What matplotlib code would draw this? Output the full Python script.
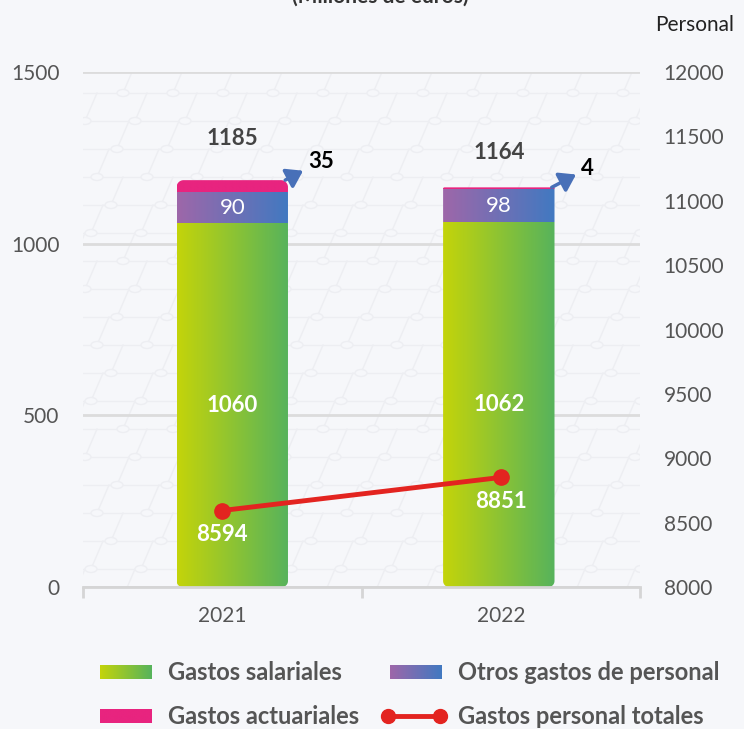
import numpy as np
import matplotlib
matplotlib.use("Agg")
import matplotlib.pyplot as plt
from matplotlib.colors import LinearSegmentedColormap
from matplotlib.path import Path
from matplotlib.patches import Ellipse

plt.rcParams["font.family"] = ["Lato", "DejaVu Sans"]

# datos (millones de euros / personal)
years = ["2021", "2022"]
salariales = [1060, 1062]
otros = [90, 98]
actuariales = [35, 4]
totales = [1185, 1164]
personal = [8594, 8851]

BG = "#f6f7fa"
cm_green = LinearSegmentedColormap.from_list("g", ["#c4d40a", "#56b35c"])
cm_purple = LinearSegmentedColormap.from_list("p", ["#9e67a9", "#4179c1"])
cm_pink = LinearSegmentedColormap.from_list("k", ["#e8247f", "#e8247f"])
grad = np.linspace(0, 1, 256).reshape(1, -1)

fig = plt.figure(figsize=(7.44, 7.29), dpi=100, facecolor=BG)
W, H = 744, 729
L, R, T, B = 83, 640, 72, 587
pos = [L / W, 1 - B / H, (R - L) / W, (B - T) / H]

# fondo con malla tenue
bgax = fig.add_axes(pos, zorder=0)
bgax.set_xlim(0, R - L)
bgax.set_ylim(0, B - T)
bgax.axis("off")
mesh = "#edeef2"
rows = np.arange(-10, B - T + 30, 28)
for i, yy in enumerate(rows):
    xs = np.arange(-60, R - L + 60, 50) + (i % 2) * 24 - (i % 3) * 6
    bgax.plot(xs, [yy] * len(xs), color=mesh, lw=1, zorder=1)
    for xx in xs:
        bgax.plot([xx, xx + 12], [yy, yy + 28], color=mesh, lw=1, zorder=1)
        bgax.add_patch(Ellipse((xx, yy), 12, 7, facecolor=BG, edgecolor=mesh, lw=1, zorder=2))

ax = fig.add_axes(pos, zorder=1)
ax.patch.set_alpha(0)
ax2 = ax.twinx()

x = np.arange(len(years))
bar_shift = [0.036, -0.007]
width = 0.4
xlim = (-0.5, 1.5)
ylim = (0, 1500)
xpp = (xlim[1] - xlim[0]) / (R - L)
ypp = (ylim[1] - ylim[0]) / (B - T)


def rounded_path(x0, y0, x1, y1, rb, rt):
    rbx, rby, rtx, rty = rb * xpp, rb * ypp, rt * xpp, rt * ypp
    pts = []
    def arc(cx, cy, rx, ry, a0, a1):
        for a in np.linspace(np.radians(a0), np.radians(a1), 12):
            pts.append((cx + rx * np.cos(a), cy + ry * np.sin(a)))
    arc(x1 - rbx, y0 + rby, rbx, rby, -90, 0)
    arc(x1 - rtx, y1 - rty, rtx, rty, 0, 90)
    arc(x0 + rtx, y1 - rty, rtx, rty, 90, 180)
    arc(x0 + rbx, y0 + rby, rbx, rby, 180, 270)
    pts.append(pts[0])
    return Path(pts, closed=True)


for i in range(len(years)):
    xc = x[i] + bar_shift[i]
    x0, x1 = xc - width / 2, xc + width / 2
    segs = [(0, salariales[i], cm_green),
            (salariales[i], salariales[i] + otros[i], cm_purple),
            (salariales[i] + otros[i], salariales[i] + otros[i] + actuariales[i], cm_pink)]
    top = segs[-1][1]
    rt = min(7, actuariales[i] / ypp)
    clip = rounded_path(x0, 0, x1, top, 6, rt)
    for s0, s1, cm in segs:
        im = ax.imshow(grad, extent=[x0, x1, s0, s1], aspect="auto", cmap=cm,
                       interpolation="bilinear", zorder=2)
        im.set_clip_path(clip, transform=ax.transData)
    ax.text(xc, salariales[i] / 2, str(salariales[i]), ha="center", va="center",
            color="white", fontsize=16, fontweight="bold", zorder=4)
    ax.text(xc, salariales[i] + otros[i] / 2, str(otros[i]), ha="center", va="center",
            color="white", fontsize=16, zorder=4)
    ax.annotate(str(actuariales[i]), xy=(x1 - 0.01, top), xytext=(36, 19),
                textcoords="offset pixels", ha="center", va="center",
                fontsize=16, fontweight="bold", color="black", zorder=4,
                arrowprops=dict(arrowstyle="<|-,head_length=0.6,head_width=0.4",
                                color="#4870b8", lw=2.5, shrinkA=2, shrinkB=0))

tot_off = [42, 35]
for i in range(len(years)):
    ax.annotate(str(totales[i]), xy=(x[i] + bar_shift[i], totales[i]), xytext=(0, tot_off[i]),
                textcoords="offset pixels", ha="center", va="center",
                fontsize=16, fontweight="bold", color="#444444")

ax.set_xlim(*xlim)
ax.set_ylim(*ylim)
ax.set_yticks([0, 500, 1000, 1500])
ax.yaxis.grid(True, color="#dcdcdc", lw=2)
ax.set_axisbelow(True)
ax.set_xticks([-0.5, 0.5, 1.5])
ax.set_xticklabels([])
ax.set_xticks(x, minor=True)
ax.set_xticklabels(years, minor=True)
ax.tick_params(axis="x", which="major", length=8, width=2, color="#d5d5d5")
ax.tick_params(axis="x", which="minor", length=0, pad=14, labelsize=15, labelcolor="#555555")
ax.tick_params(axis="y", length=0, pad=17, labelsize=15, labelcolor="#555555")
for s in ["top", "left", "right"]:
    ax.spines[s].set_visible(False)
ax.spines["bottom"].set_color("#d5d5d5")
ax.spines["bottom"].set_linewidth(2)

# línea de personal
ax2.plot(x, personal, color="#e32420", lw=3.5, marker="o", ms=11, zorder=5)
for i in range(len(years)):
    ax2.annotate(str(personal[i]), xy=(x[i], personal[i]), xytext=(0, -24),
                 textcoords="offset pixels", ha="center", va="center",
                 fontsize=16, fontweight="bold", color="white", zorder=6)
ax2.set_ylim(8000, 12000)
ax2.set_yticks(np.arange(8000, 12001, 500))
ax2.tick_params(axis="y", length=0, pad=17, labelsize=15, labelcolor="#555555")
for s in ax2.spines.values():
    s.set_visible(False)

fig.text(655 / W, 1 - 25 / H, "Personal", ha="left", va="center", fontsize=15, color="#222222")
fig.text(380 / W, 1 - 3 / H, "(Millones de euros)", ha="center", va="baseline",
         fontsize=15, fontweight="bold", color="#333333")

# leyenda
lg = fig.add_axes([0, 0, 1, 1], zorder=3)
lg.set_xlim(0, W)
lg.set_ylim(H, 0)
lg.axis("off")
lg.imshow(grad, extent=[100, 152, 679, 665], aspect="auto", cmap=cm_green)
lg.imshow(grad, extent=[390, 442, 679, 665], aspect="auto", cmap=cm_purple)
lg.imshow(grad, extent=[100, 152, 723, 709], aspect="auto", cmap=cm_pink)
lg.set_xlim(0, W)
lg.set_ylim(H, 0)
lg.plot([388, 440], [716, 716], color="#e32420", lw=3.5, marker="o", ms=10)
ltxt = dict(fontsize=17, fontweight="bold", color="#555555", va="center", ha="left")
lg.text(168, 672, "Gastos salariales", **ltxt)
lg.text(458, 672, "Otros gastos de personal", **ltxt)
lg.text(168, 716, "Gastos actuariales", **ltxt)
lg.text(458, 716, "Gastos personal totales", **ltxt)

fig.savefig("out.png", dpi=100, facecolor=BG)
